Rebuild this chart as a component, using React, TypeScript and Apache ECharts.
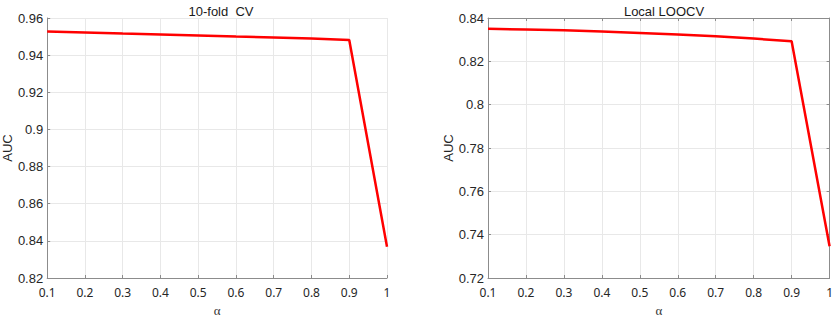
import React, { useEffect, useRef } from "react";
import * as echarts from "echarts";

const alphas = [0.1, 0.2, 0.3, 0.4, 0.5, 0.6, 0.7, 0.8, 0.9, 1.0];
const aucTenFold = [0.9527, 0.9522, 0.9516, 0.9511, 0.9506, 0.9500, 0.9495, 0.9490, 0.9482, 0.8368];
const aucLocalLoocv = [0.8350, 0.8347, 0.8343, 0.8338, 0.8331, 0.8324, 0.8316, 0.8305, 0.8293, 0.7347];
const titles = ["10-fold  CV", "Local LOOCV"];
const yRanges = [
  [0.82, 0.96],
  [0.72, 0.84],
];

export default function App() {
  const ref = useRef<HTMLDivElement>(null);
  useEffect(() => {
    if (!ref.current) return;
    const chart = echarts.init(ref.current, undefined, { renderer: "svg" });
    const axisGray = "#8c8c8c";
    const gridGray = "#e8e8e8";
    const grids = [
      { left: 45, right: 449, top: 18, bottom: 34 },
      { left: 488, right: 6, top: 18, bottom: 34 },
    ];
    const xAxes: any[] = [];
    const yAxes: any[] = [];
    [0, 1].forEach((g) => {
      xAxes.push({
        type: "value",
        gridIndex: g,
        min: 0.1,
        max: 1,
        interval: 0.1,
        name: "α",
        nameLocation: "middle",
        nameGap: 26,
        nameTextStyle: { fontFamily: "Liberation Serif", fontSize: 13, color: "#333" },
        axisLine: { show: true, lineStyle: { color: axisGray, width: 1 } },
        axisTick: { show: true, inside: true, length: 3, lineStyle: { color: axisGray } },
        axisLabel: {
          fontFamily: "Noto Sans",
          fontSize: 12,
          color: "#262626",
          margin: 8,
          formatter: (v: number) => String(Math.round(v * 10) / 10),
        },
        splitLine: { show: true, lineStyle: { color: gridGray, width: 1 } },
      });
      yAxes.push({
        type: "value",
        gridIndex: g,
        min: yRanges[g][0],
        max: yRanges[g][1],
        interval: 0.02,
        name: "AUC",
        nameLocation: "middle",
        nameGap: 29,
        nameRotate: 90,
        nameTextStyle: { fontFamily: "Liberation Sans", fontSize: 13, color: "#262626" },
        axisLine: { show: true, lineStyle: { color: axisGray, width: 1 } },
        axisTick: { show: true, inside: true, length: 3, lineStyle: { color: axisGray } },
        axisLabel: {
          fontFamily: "Liberation Sans",
          fontSize: 13,
          color: "#262626",
          margin: 4,
          formatter: (v: number) => String(Math.round(v * 100) / 100),
        },
        splitLine: { show: true, lineStyle: { color: gridGray, width: 1 } },
      });
    });
    // box for the second panel (top & right)
    xAxes.push({
      type: "value",
      gridIndex: 1,
      position: "top",
      min: 0.1,
      max: 1,
      interval: 0.1,
      axisLine: { show: true, onZero: false, lineStyle: { color: axisGray, width: 1 } },
      axisTick: { show: true, inside: true, length: 3, lineStyle: { color: axisGray } },
      axisLabel: { show: false },
      splitLine: { show: false },
    });
    yAxes.push({
      type: "value",
      gridIndex: 1,
      position: "right",
      min: yRanges[1][0],
      max: yRanges[1][1],
      interval: 0.02,
      axisLine: { show: true, onZero: false, lineStyle: { color: axisGray, width: 1 } },
      axisTick: { show: true, inside: true, length: 3, lineStyle: { color: axisGray } },
      axisLabel: { show: false },
      splitLine: { show: false },
    });
    const titleStyle = { fontFamily: "Liberation Sans", fontSize: 13, fontWeight: "normal", color: "#1a1a1a" };
    chart.setOption({
      animation: false,
      backgroundColor: "#ffffff",
      title: [
        { text: titles[0], left: 45 + (387 - 45) / 2, textAlign: "center", top: 0, textStyle: titleStyle },
        { text: titles[1], left: 488 + (830 - 488) / 2, textAlign: "center", top: 0, textStyle: titleStyle },
      ],
      grid: grids,
      xAxis: xAxes,
      yAxis: yAxes,
      series: [
        {
          type: "line",
          xAxisIndex: 0,
          yAxisIndex: 0,
          data: alphas.map((a, i) => [a, aucTenFold[i]]),
          showSymbol: false,
          lineStyle: { color: "#ff0000", width: 2.5 },
        },
        {
          type: "line",
          xAxisIndex: 1,
          yAxisIndex: 1,
          data: alphas.map((a, i) => [a, aucLocalLoocv[i]]),
          showSymbol: false,
          lineStyle: { color: "#ff0000", width: 2.5 },
        },
      ],
    });
    return () => chart.dispose();
  }, []);
  return <div ref={ref} style={{ width: 836, height: 322, position: "absolute", left: 0, top: 0 }} />;
}
